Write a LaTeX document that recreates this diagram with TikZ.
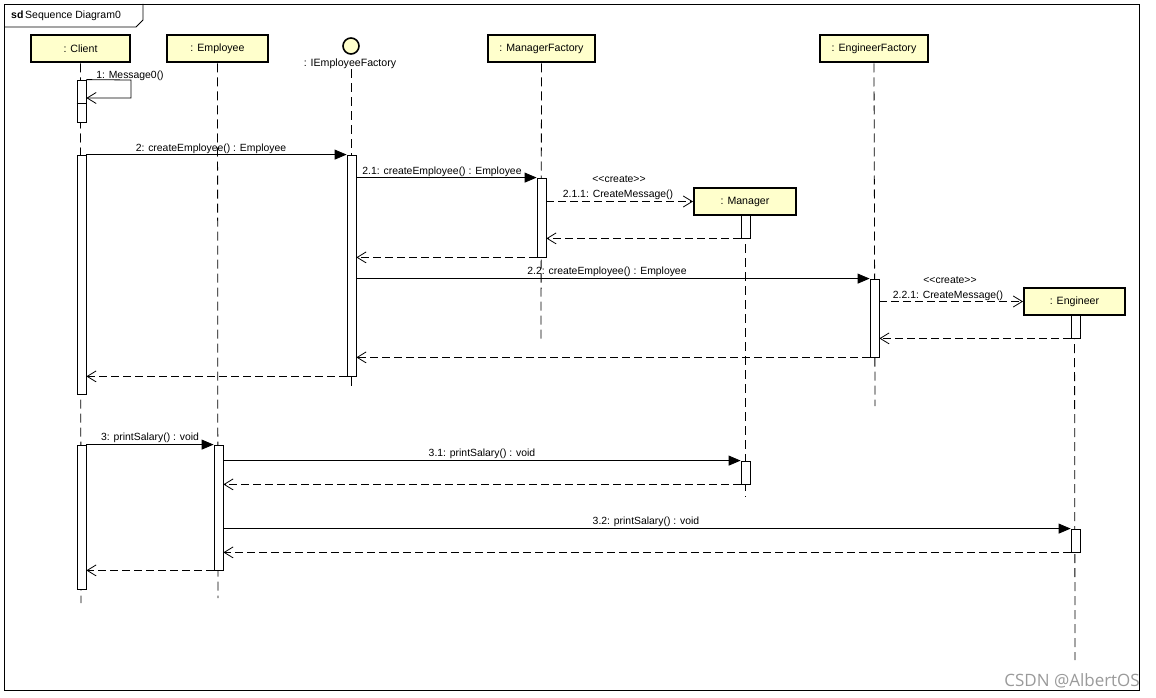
\documentclass[tikz,border=0pt]{standalone}
\usepackage{fontspec}
\setmainfont{Liberation Sans}
\newfontfamily\wmfont{Open Sans}
\usetikzlibrary{arrows.meta}
\definecolor{headfill}{HTML}{FFFFCC}
\definecolor{wmgray}{HTML}{9A9A9A}
\newcommand{\crt}{<\kern0pt<create>\kern0pt>}
\begin{document}
\begin{tikzpicture}[x=1pt,y=-1pt,
  head/.style={draw, line width=2pt, fill=headfill, minimum height=27pt, inner sep=0pt, font=\fontsize{10.6}{12}\selectfont},
  act/.style={draw, fill=white, line width=0.8pt, minimum width=9pt, inner sep=0pt},
  life/.style={line width=0.8pt, dash pattern=on 9pt off 5pt},
  msg/.style={line width=0.8pt, -{Triangle[length=12pt,width=10pt]}},
  ret/.style={line width=0.8pt, dash pattern=on 8pt off 4pt, -{Straight Barb[length=9pt,width=11pt]}},
  self/.style={line width=0.8pt, -{Straight Barb[length=9pt,width=11pt]}},
  lbl/.style={font=\fontsize{10.4}{12}\selectfont, inner sep=1pt}]
\useasboundingbox (0,0) rectangle (1156,698);
% frame
\draw[line width=0.9pt] (4,4) rectangle (1139,690);
\draw[line width=0.9pt] (4,27) -- (136,27) -- (143,20) -- (143,4);
\node[anchor=west, font=\fontsize{10.5}{12}\selectfont, inner sep=0pt] (frm) at (11,16) {\textbf{sd}\,Sequence Diagram0};
% heads
\node[head, minimum width=99pt] (client) at (80.5,49) {: Client};
\node[head, minimum width=101pt] (employee) at (217.5,49) {: Employee};
\node[draw, circle, line width=1.6pt, fill=headfill, minimum size=16pt, inner sep=0pt] (ief) at (351,46) {};
\node[font=\fontsize{10.6}{12}\selectfont, inner sep=0pt] (ieflbl) at (350,64) {: IEmployeeFactory};
\node[head, minimum width=107pt] (mf) at (541.5,49) {: ManagerFactory};
\node[head, minimum width=108pt] (ef) at (874,49) {: EngineerFactory};
\node[head, minimum width=102pt] (mgr) at (745,201.5) {: Manager};
\node[head, minimum width=101pt] (eng) at (1074.5,301.5) {: Engineer};
% lifelines
\coordinate (clientEnd) at (81,603);
\coordinate (employeeEnd) at (218,598);
\coordinate (iefEnd) at (351,390);
\coordinate (mfEnd) at (541,340);
\coordinate (efEnd) at (875,406);
\coordinate (mgrEnd) at (745,497);
\coordinate (engEnd) at (1075,660);
\draw[life] (client.south) -- (clientEnd);
\draw[life] (employee.south) -- (employeeEnd);
\draw[life] (ieflbl.south -| ief.south) -- (iefEnd);
\draw[life] (mf.south) -- (mfEnd);
\draw[life] (ef.south) -- (efEnd);
\draw[life] (mgr.south) -- (mgrEnd);
\draw[life] (eng.south) -- (engEnd);
% activations
\node[act, minimum height=42pt] (c1) at (81.5,101) {};
\draw[line width=0.8pt] (c1.west |- 0,103) -- (c1.east |- 0,103);
\node[act, minimum height=239pt] (c2) at (81.5,274.5) {};
\node[act, minimum height=144pt] (c3) at (81.5,517) {};
\node[act, minimum height=221pt] (iefa) at (351.5,265.5) {};
\node[act, minimum height=79pt] (mfa) at (541.5,217.5) {};
\node[act, minimum height=23pt] (mgr1) at (745.5,226.5) {};
\node[act, minimum height=78pt] (efa) at (874.5,318) {};
\node[act, minimum height=23pt] (eng1) at (1075.5,326.5) {};
\node[act, minimum height=125pt] (empa) at (218.5,507.5) {};
\node[act, minimum height=23pt] (mgr2) at (745.5,472.5) {};
\node[act, minimum height=23pt] (eng2) at (1075.5,540.5) {};
% 1: self message
\coordinate (s1) at (131,80);
\coordinate (s2) at (131,98);
\draw[self] (c1.north east) -- (s1) -- (s2) -- (c1.east |- s2);
\node[lbl] (l1) at (130,76) {1: Message0()};
% 2
\draw[msg] (c2.north east) -- (iefa.north west);
\node[lbl] (l2) at (211,149) {2: createEmployee() : Employee};
% 2.1
\draw[msg] (iefa.east |- mfa.north) -- (mfa.north west);
\node[lbl] (l21) at (442,172) {2.1: createEmployee() : Employee};
% 2.1.1 create
\draw[ret] (mfa.east |- mgr.west) -- (mgr.west);
\node[lbl] (l211) at (618,194.5) {2.1.1: CreateMessage()};
\node[lbl] (c211) at (619,179.5) {\crt};
\draw[ret] (mgr1.south west) -- (mfa.east |- mgr1.south);
\draw[ret] (mfa.south west) -- (iefa.east |- mfa.south);
% 2.2
\draw[msg] (iefa.east |- efa.north) -- (efa.north west);
\node[lbl] (l22) at (607,272) {2.2: createEmployee() : Employee};
% 2.2.1 create
\draw[ret] (efa.east |- eng.west) -- (eng.west);
\node[lbl] (l221) at (948,295.5) {2.2.1: CreateMessage()};
\node[lbl] (c221) at (950,280.5) {\crt};
\draw[ret] (eng1.south west) -- (efa.east |- eng1.south);
\draw[ret] (efa.south west) -- (iefa.east |- efa.south);
\draw[ret] (iefa.south west) -- (c2.east |- iefa.south);
% 3
\draw[msg] (c3.north east) -- (empa.north west);
\node[lbl] (l3) at (150,438) {3: printSalary() : void};
\draw[msg] (empa.east |- mgr2.north) -- (mgr2.north west);
\node[lbl] (l31) at (482,454) {3.1: printSalary() : void};
\draw[ret] (mgr2.south west) -- (empa.east |- mgr2.south);
\draw[msg] (empa.east |- eng2.north) -- (eng2.north west);
\node[lbl] (l32) at (646,522) {3.2: printSalary() : void};
\draw[ret] (eng2.south west) -- (empa.east |- eng2.south);
\draw[ret] (empa.south west) -- (c3.east |- empa.south);
% watermark
\node[anchor=east, text=wmgray, font=\wmfont\fontsize{17}{20}\selectfont, inner sep=0pt] (wm) at (1140,681) {CSDN @AlbertOS};
\end{tikzpicture}
\end{document}
